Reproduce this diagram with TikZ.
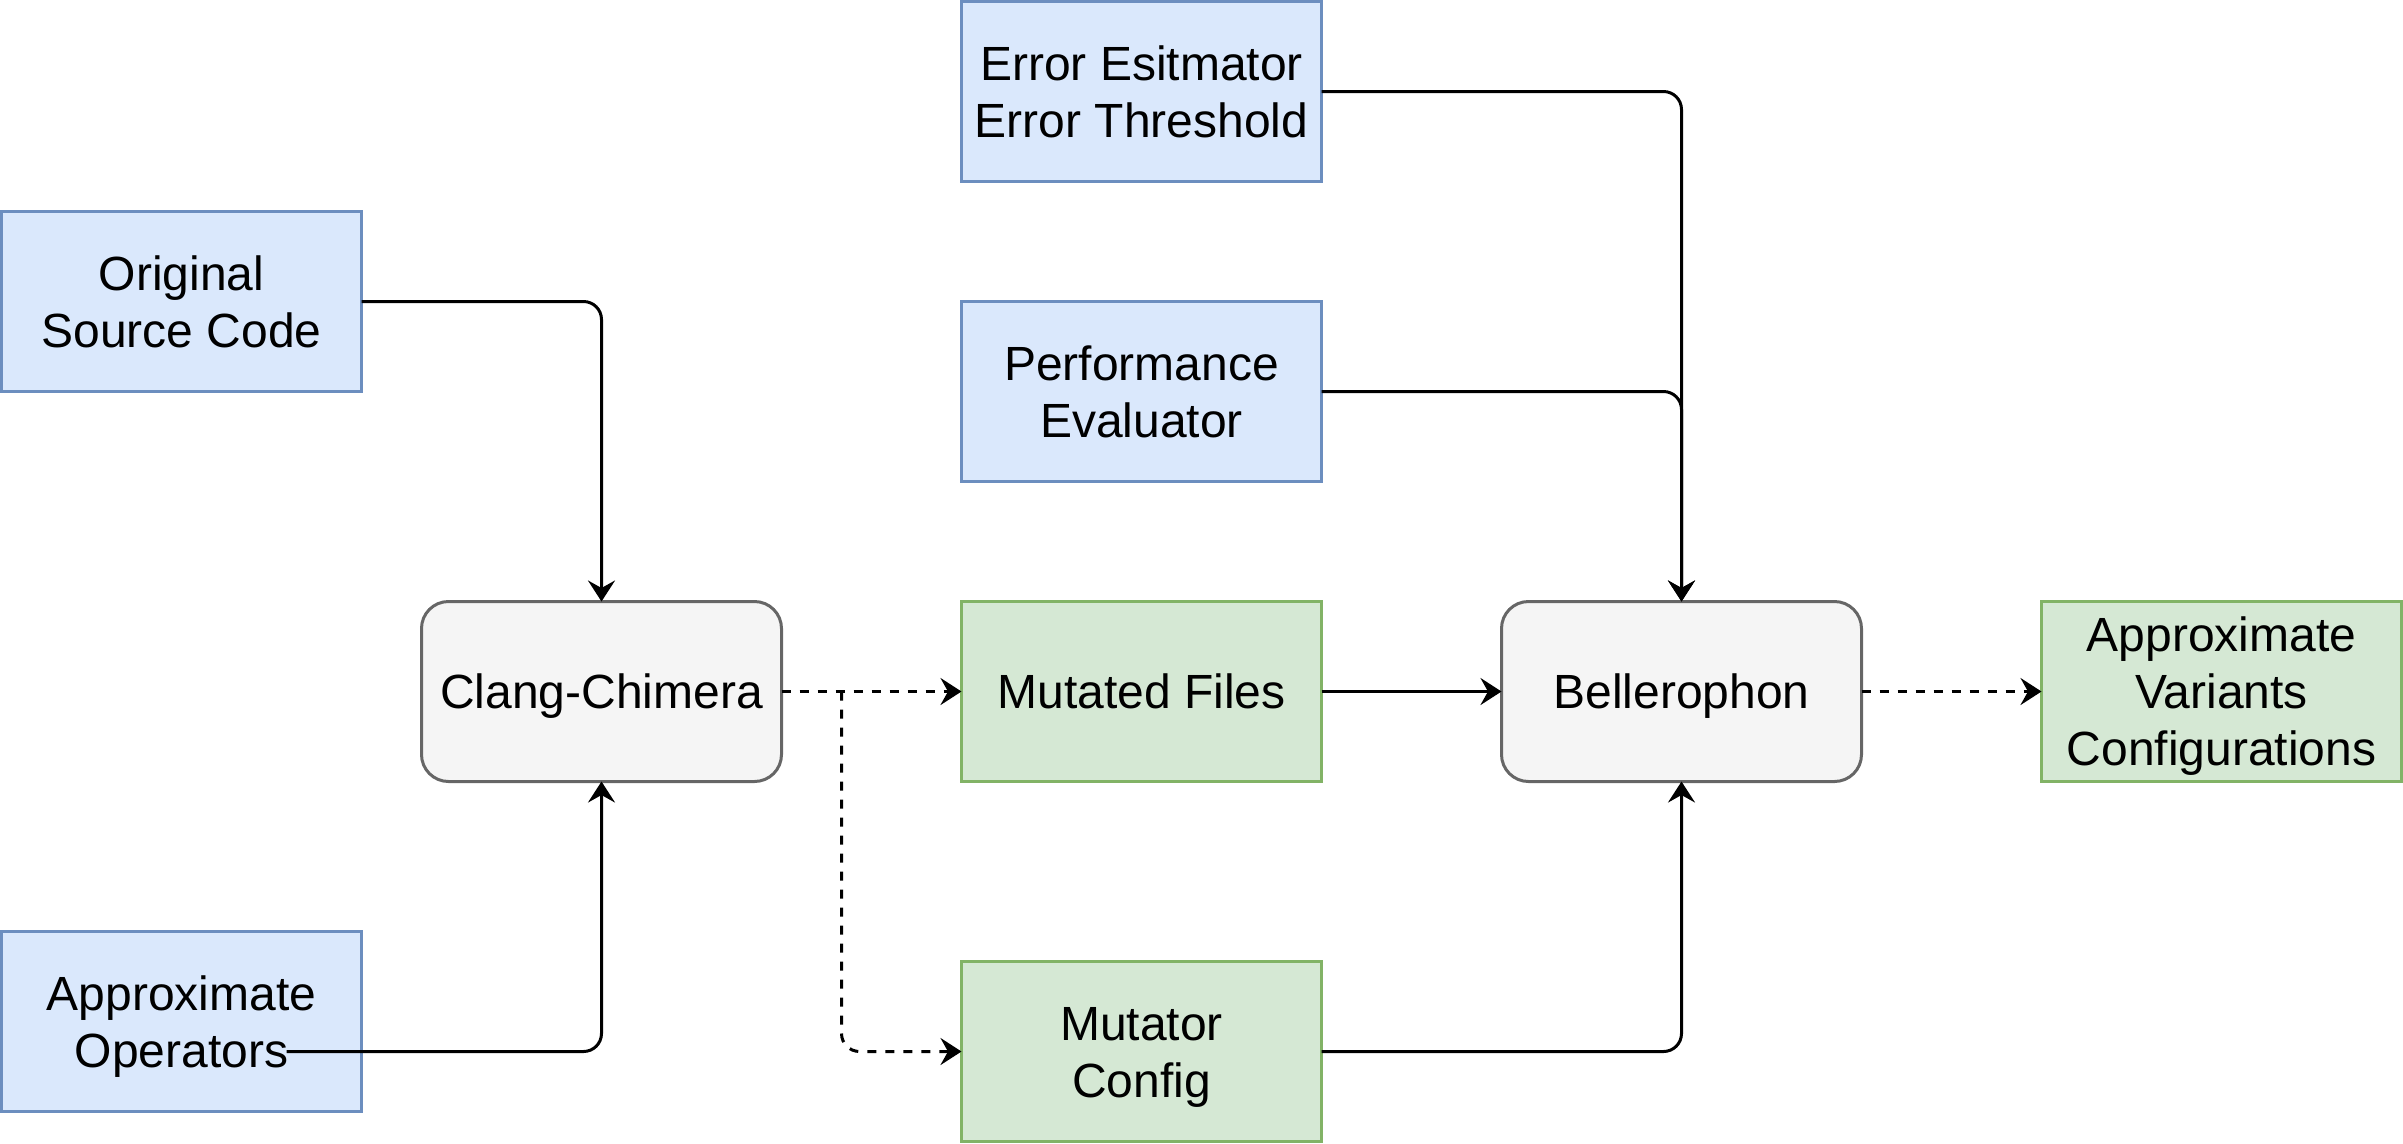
\documentclass[tikz,border=0pt]{standalone}
\usepackage{fontspec}
\setmainfont{Liberation Sans}
\usetikzlibrary{arrows.meta}
\definecolor{bluefill}{HTML}{DAE8FC}
\definecolor{bluedraw}{HTML}{6C8EBF}
\definecolor{greenfill}{HTML}{D5E8D4}
\definecolor{greendraw}{HTML}{82B366}
\definecolor{grayfill}{HTML}{F5F5F5}
\definecolor{graydraw}{HTML}{666666}
\newcommand\lnstrut{\rule[-3.75pt]{0pt}{19pt}}
\begin{document}
\begin{tikzpicture}[x=1pt,y=-1pt,
  box/.style={rectangle,minimum width=120pt,minimum height=60pt,inner sep=0pt,outer sep=0pt,
    align=center,line width=1pt,font=\fontsize{16}{19}\selectfont},
  inbox/.style={box,fill=bluefill,draw=bluedraw},
  outbox/.style={box,fill=greenfill,draw=greendraw},
  toolbox/.style={box,fill=grayfill,draw=graydraw,rounded corners=9pt},
  conn/.style={line width=1pt,rounded corners=6pt,-{Stealth[length=7pt,width=9pt,inset=2.5pt]}},
  dconn/.style={conn,dash pattern=on 3pt off 3pt}]
\useasboundingbox (-0.5,-0.5) rectangle (800.5,380.5);
\node[inbox] (osc) at (60,100) {\lnstrut Original\\\lnstrut Source Code};
\node[inbox] (aop) at (60,340) {\lnstrut Approximate\\\lnstrut Operators};
\node[toolbox] (cc) at (200,230) {\lnstrut Clang-Chimera};
\node[inbox] (ee) at (380,30) {\lnstrut Error Esitmator\\\lnstrut Error Threshold};
\node[inbox] (pe) at (380,130) {\lnstrut Performance\\\lnstrut Evaluator};
\node[outbox] (mf) at (380,230) {\lnstrut Mutated Files};
\node[outbox] (mc) at (380,350) {\lnstrut Mutator\\\lnstrut Config};
\node[toolbox] (bel) at (560,230) {\lnstrut Bellerophon};
\node[outbox] (av) at (740,230) {\lnstrut Approximate\\\lnstrut Variants\\\lnstrut Configurations};
\coordinate (aopstart) at (95,350);
\coordinate (split) at (280,230);
\draw[conn] (osc.east) -| (cc.north);
\draw[conn] (aopstart) -| (cc.south);
\draw[dconn] (cc.east) -- (mf.west);
\draw[dconn] (split) |- (mc.west);
\draw[conn] (mf.east) -- (bel.west);
\draw[conn] (mc.east) -| (bel.south);
\draw[conn] (ee.east) -| (bel.north);
\draw[conn] (pe.east) -| (bel.north);
\draw[dconn] (bel.east) -- (av.west);
\end{tikzpicture}
\end{document}
